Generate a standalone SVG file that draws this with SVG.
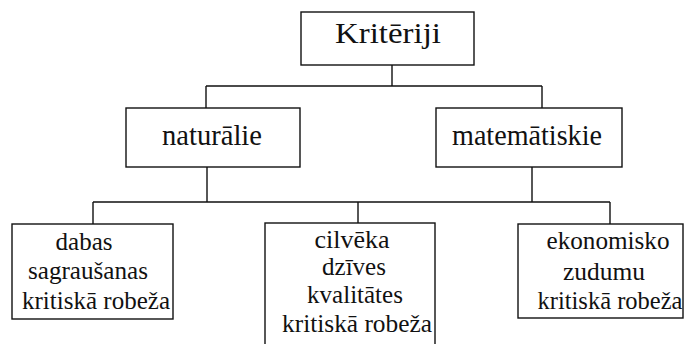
<svg xmlns="http://www.w3.org/2000/svg" width="684" height="344" viewBox="0 0 684 344" font-family="'Liberation Serif', 'DejaVu Serif', 'Times New Roman', serif">
<style>
.box{fill:#fff;stroke:#111;stroke-width:1.4}
.ln{fill:none;stroke:#111;stroke-width:1.4}
text{font-family:'Liberation Serif','DejaVu Serif','Times New Roman',serif;fill:#111}
.big{font-size:29px}
.sm{font-size:25px}
</style>
<rect width="684" height="344" fill="#fff"/>
<g id="connectors">
<path class="ln" d="M392,65V86M206,86H542M206,86V108M542,86V108M207,167V202M532,167V202M93,202H610M93,202V224M358,202V223M610,202V224"/>
</g>
<g id="kriteriji">
<rect class="box" x="301" y="12" width="173" height="53"/>
<text class="big" x="388" y="43" text-anchor="middle" textLength="106" lengthAdjust="spacingAndGlyphs">Kritēriji</text>
</g>
<g id="naturalie">
<rect class="box" x="126" y="108" width="174" height="59"/>
<text class="big" x="212" y="145" text-anchor="middle" textLength="100" lengthAdjust="spacingAndGlyphs">naturālie</text>
</g>
<g id="matematiskie">
<rect class="box" x="436" y="108" width="186" height="59"/>
<text class="big" x="527" y="145" text-anchor="middle" textLength="150" lengthAdjust="spacingAndGlyphs">matemātiskie</text>
</g>
<g id="dabas">
<rect class="box" x="12" y="224" width="161" height="95"/>
<text class="sm" x="84" y="250" text-anchor="middle" textLength="57" lengthAdjust="spacingAndGlyphs">dabas</text>
<text class="sm" x="88" y="279" text-anchor="middle" textLength="120" lengthAdjust="spacingAndGlyphs">sagraušanas</text>
<text class="sm" x="96" y="309" text-anchor="middle" textLength="148" lengthAdjust="spacingAndGlyphs">kritiskā robeža</text>
</g>
<g id="cilveka">
<rect class="box" x="265" y="223" width="170" height="125"/>
<text class="sm" x="352" y="248" text-anchor="middle" textLength="75" lengthAdjust="spacingAndGlyphs">cilvēka</text>
<text class="sm" x="354" y="275" text-anchor="middle">dzīves</text>
<text class="sm" x="355" y="303" text-anchor="middle">kvalitātes</text>
<text class="sm" x="357" y="332" text-anchor="middle" textLength="150" lengthAdjust="spacingAndGlyphs">kritiskā robeža</text>
</g>
<g id="ekonomisko">
<rect class="box" x="518" y="224" width="165" height="94"/>
<text class="sm" x="608" y="249" text-anchor="middle" textLength="123" lengthAdjust="spacingAndGlyphs">ekonomisko</text>
<text class="sm" x="604" y="280" text-anchor="middle" textLength="82" lengthAdjust="spacingAndGlyphs">zudumu</text>
<text class="sm" x="610" y="309" text-anchor="middle" textLength="145" lengthAdjust="spacingAndGlyphs">kritiskā robeža</text>
</g>
</svg>
